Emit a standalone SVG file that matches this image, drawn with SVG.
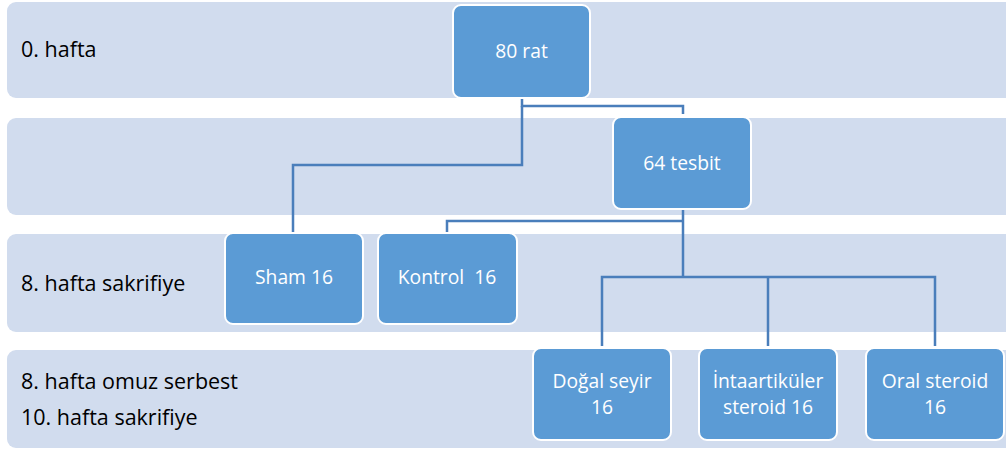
<svg xmlns="http://www.w3.org/2000/svg" width="1006" height="450" viewBox="0 0 1006 450">
<style>
.band{fill:#d1dcee;}
.node{fill:#5b9bd5;stroke:#ffffff;stroke-width:2;}
.lbl{font-family:"Open Sans","Liberation Sans",sans-serif;font-size:21.5px;fill:#000;}
.nt{font-family:"Open Sans","Liberation Sans",sans-serif;font-size:19.3px;fill:#fff;text-anchor:middle;}
.conn{fill:none;stroke:#4a7ebb;stroke-width:2.5;}
</style>
<g id="bands">
<rect class="band" x="7" y="2" width="1010" height="96" rx="9"/>
<rect class="band" x="7" y="118" width="1010" height="97" rx="9"/>
<rect class="band" x="7" y="234" width="1010" height="98" rx="9"/>
<rect class="band" x="7" y="350" width="1010" height="98" rx="9"/>
<text class="lbl" x="21" y="57">0. hafta</text>
<text class="lbl" x="21" y="291">8. hafta sakrifiye</text>
<text class="lbl" x="21" y="389">8. hafta omuz serbest</text>
<text class="lbl" x="21" y="425">10. hafta sakrifiye</text>
</g>
<g id="connectors">
<path class="conn" d="M522,98 V106 H683 V114"/>
<path class="conn" d="M522,106 V165 H293 V233"/>
<path class="conn" d="M683,209 V277"/>
<path class="conn" d="M683,221 H447 V233"/>
<path class="conn" d="M602,346 V277 H935 V346"/>
<path class="conn" d="M768,277 V346"/>
</g>
<g id="n80rat">
<rect class="node" x="453" y="5" width="137" height="93" rx="8"/>
<text class="nt" x="521.5" y="58">80 rat</text>
</g>
<g id="n64tesbit">
<rect class="node" x="613" y="117" width="138" height="92" rx="8"/>
<text class="nt" x="682" y="170">64 tesbit</text>
</g>
<g id="nSham">
<rect class="node" x="225" y="233" width="138" height="91" rx="8"/>
<text class="nt" x="294" y="284">Sham 16</text>
</g>
<g id="nKontrol">
<rect class="node" x="378" y="233" width="139" height="91" rx="8"/>
<text class="nt" x="447" y="284" xml:space="preserve">Kontrol  16</text>
</g>
<g id="nDogal">
<rect class="node" x="533" y="348" width="138" height="92" rx="8"/>
<text class="nt" x="602" y="388">Doğal seyir</text>
<text class="nt" x="602" y="414">16</text>
</g>
<g id="nIntra">
<rect class="node" x="699" y="348" width="138" height="92" rx="8"/>
<text class="nt" x="768" y="388">İntaartiküler</text>
<text class="nt" x="768" y="414">steroid 16</text>
</g>
<g id="nOral">
<rect class="node" x="866" y="348" width="138" height="92" rx="8"/>
<text class="nt" x="935" y="388">Oral steroid</text>
<text class="nt" x="935" y="414">16</text>
</g>
</svg>
